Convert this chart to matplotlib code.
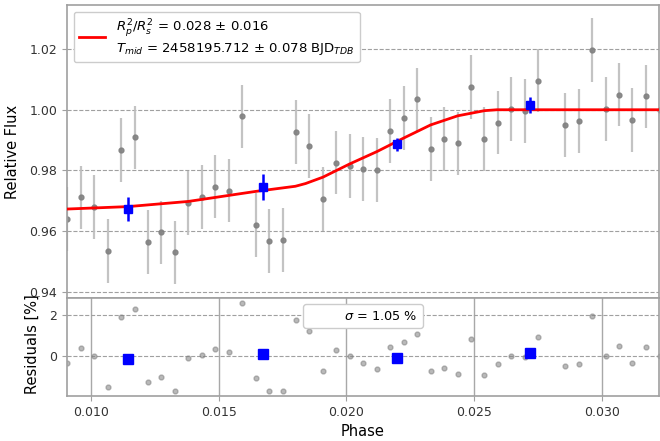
import matplotlib
matplotlib.use("Agg")
import matplotlib.pyplot as plt
from matplotlib.lines import Line2D
import numpy as np

# ---- data ----
phase = [0.00906, 0.00959, 0.01011, 0.01064, 0.01117, 0.01170, 0.01222, 0.01275,
         0.01328, 0.01381, 0.01433, 0.01486, 0.01539, 0.01592, 0.01644, 0.01697,
         0.01750, 0.01803, 0.01855, 0.01908, 0.01961, 0.02014, 0.02066, 0.02119,
         0.02172, 0.02225, 0.02277, 0.02330, 0.02383, 0.02436, 0.02488, 0.02541,
         0.02594, 0.02646, 0.02699, 0.02752, 0.02857, 0.02910, 0.02963, 0.03016,
         0.03068, 0.03121, 0.03174, 0.03227]
flux = [0.9641, 0.9711, 0.9679, 0.9536, 0.9867, 0.9909, 0.9565, 0.9596,
        0.9530, 0.9692, 0.9713, 0.9747, 0.9734, 0.9978, 0.9621, 0.9567,
        0.9570, 0.9926, 0.9881, 0.9707, 0.9826, 0.9815, 0.9805, 0.9801,
        0.9931, 0.9974, 1.0034, 0.9870, 0.9904, 0.9889, 1.0074, 0.9904,
        0.9958, 1.0003, 0.9997, 1.0096, 0.9950, 0.9963, 1.0198, 1.0003,
        1.0050, 0.9966, 1.0044, 1.0000]
flux_err = [0.0105] * len(flux)
residuals = [-0.34, 0.36, 0.00, -1.52, 1.92, 2.29, -1.31, -1.03,
             -1.75, -0.10, 0.05, 0.34, 0.17, 2.60, -1.11, -1.72,
             -1.75, 1.77, 1.20, -0.74, 0.26, 0.00, -0.37, -0.65,
             0.44, 0.66, 1.07, -0.77, -0.59, -0.88, 0.84, -0.93,
             -0.42, 0.00, -0.05, 0.93, -0.52, -0.39, 1.95, 0.00,
             0.49, -0.34, 0.41, 0.00]

bin_phase = [0.01144, 0.01672, 0.02199, 0.02719]
bin_flux = [0.9673, 0.9745, 0.9886, 1.0016]
bin_err = [0.0038, 0.0042, 0.0021, 0.0027]
bin_resid = [-0.16, 0.08, -0.10, 0.15]

model_phase = [0.00905, 0.01144, 0.01380, 0.01644, 0.01800, 0.01840, 0.01908,
               0.02014, 0.02119, 0.02225, 0.02330, 0.02436, 0.02541, 0.02590,
               0.03225]
model_flux = [0.9673, 0.9681, 0.9698, 0.9731, 0.9748, 0.9757, 0.9778,
              0.9822, 0.9862, 0.9907, 0.9950, 0.9980, 0.9997, 1.0000,
              1.0000]

label_model = ("$R_p^2/R_s^2$ = 0.028 ± 0.016\n"
               "$T_{mid}$ = 2458195.712 ± 0.078 BJD$_{TDB}$")
label_sigma = r"$\sigma$ = 1.05 %"

# ---- figure ----
W, H = 660, 441
fig = plt.figure(figsize=(W / 100, H / 100), dpi=100)
L, R = 67 / W, 659 / W
ax1 = fig.add_axes([L, (H - 298) / H, R - L, (298 - 5) / H])
ax2 = fig.add_axes([L, (H - 396) / H, R - L, (396 - 298) / H], sharex=ax1)

spine_c = "#a0a0a0"
for ax in (ax1, ax2):
    for s in ax.spines.values():
        s.set_color(spine_c)
        s.set_linewidth(1.2)
    ax.tick_params(colors="#333333", labelsize=9, color=spine_c)

# top panel
ax1.errorbar(phase, flux, yerr=flux_err, fmt="o", color="gray", ms=3.5,
             ecolor="#bdbdbd", elinewidth=1.6, alpha=0.9, zorder=2)
ax1.errorbar(bin_phase, bin_flux, yerr=bin_err, fmt="s", color="blue", ms=6,
             elinewidth=1.8, zorder=4)
ax1.plot(model_phase, model_flux, color="red", lw=2, zorder=3, label=label_model)
ax1.set_ylim(0.938, 1.0345)
ax1.set_yticks([0.94, 0.96, 0.98, 1.00, 1.02])
ax1.yaxis.grid(True, ls="--", color="#a0a0a0", lw=0.8)
ax1.tick_params(axis="x", bottom=False, labelbottom=False)
ax1.set_ylabel("Relative Flux", fontsize=10.5)
ax1.yaxis.set_label_coords(-0.079, 0.5)
ax1.legend(loc="upper left", fontsize=9.5, framealpha=1, edgecolor="#cccccc")

# residual panel
ax2.plot(phase, residuals, "o", color="gray", ms=3.5, alpha=0.55, zorder=2)
ax2.plot(bin_phase, bin_resid, "s", color="blue", ms=6.5, zorder=3)
ax2.set_ylim(-1.98, 2.84)
ax2.set_yticks([0, 2])
ax2.yaxis.grid(True, ls="--", color="#a0a0a0", lw=0.8)
ax2.xaxis.grid(True, ls="-", color="#a8a8a8", lw=1.0)
ax2.set_xlim(0.00905, 0.03225)
ax2.set_xticks([0.010, 0.015, 0.020, 0.025, 0.030])
ax2.set_xticklabels(["0.010", "0.015", "0.020", "0.025", "0.030"])
ax2.set_xlabel("Phase", fontsize=10.5)
ax2.set_ylabel("Residuals [%]", fontsize=10.5)
ax2.yaxis.set_label_coords(-0.046, 0.53)
h = Line2D([], [], ls="none")
ax2.legend([h], [label_sigma], loc="upper center", fontsize=9.3,
           framealpha=1, edgecolor="#cccccc")

fig.savefig("out.png", dpi=100)
